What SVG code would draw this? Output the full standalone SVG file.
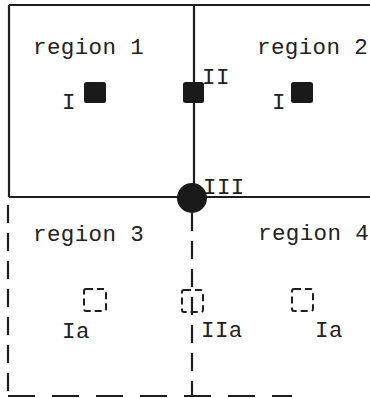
<svg xmlns="http://www.w3.org/2000/svg" width="370" height="398" viewBox="0 0 370 398">
<style>
  text { font-family: "Liberation Mono", "Courier New", monospace; font-size: 22.5px; letter-spacing: 0.4px; fill: #222; }
  .solid { stroke: #1e1e1e; stroke-width: 2.2; fill: none; }
  .dash { stroke: #1e1e1e; stroke-width: 2.2; fill: none; stroke-dasharray: 18 10; }
  .hdash { stroke: #1e1e1e; stroke-width: 2.2; fill: none; stroke-dasharray: 27 17; }
  .fill { fill: #1a1a1a; }
  .ghost { fill: none; stroke: #1e1e1e; stroke-width: 2; stroke-dasharray: 7 4; }
</style>
<rect width="370" height="398" fill="#fff"/>
<g id="connectors">
  <line class="solid" x1="9" y1="5" x2="370" y2="5"/>
  <line class="solid" x1="9" y1="5" x2="9" y2="197"/>
  <line class="solid" x1="194" y1="5" x2="194" y2="197"/>
  <line class="solid" x1="9" y1="197" x2="370" y2="197"/>
  <line class="dash" x1="8" y1="205" x2="8" y2="396"/>
  <line class="dash" x1="192" y1="213" x2="192" y2="396"/>
  <line class="hdash" x1="8" y1="396" x2="292" y2="396"/>
</g>
<g id="regions">
  <text x="33" y="54">region 1</text>
  <text x="257" y="54">region 2</text>
  <text x="33" y="241">region 3</text>
  <text x="258" y="240">region 4</text>
</g>
<g id="node-I-r1">
  <rect class="fill" x="84" y="82" width="22" height="21" rx="2.5"/>
  <text x="62" y="109">I</text>
</g>
<g id="node-II">
  <rect class="fill" x="183" y="82" width="21" height="21" rx="2.5"/>
  <text x="202" y="84">II</text>
</g>
<g id="node-I-r2">
  <rect class="fill" x="291" y="82" width="22" height="21" rx="2.5"/>
  <text x="272" y="109">I</text>
</g>
<g id="node-III">
  <circle class="fill" cx="192" cy="198" r="15"/>
  <text x="203" y="194">III</text>
</g>
<g id="node-Ia-r3">
  <rect class="ghost" x="84" y="289" width="22" height="22" rx="2"/>
  <text x="62" y="338">Ia</text>
</g>
<g id="node-IIa">
  <rect class="ghost" x="182" y="290" width="21" height="22" rx="2"/>
  <text x="201" y="337">IIa</text>
</g>
<g id="node-Ia-r4">
  <rect class="ghost" x="292" y="289" width="21" height="22" rx="2"/>
  <text x="315" y="337">Ia</text>
</g>
</svg>
